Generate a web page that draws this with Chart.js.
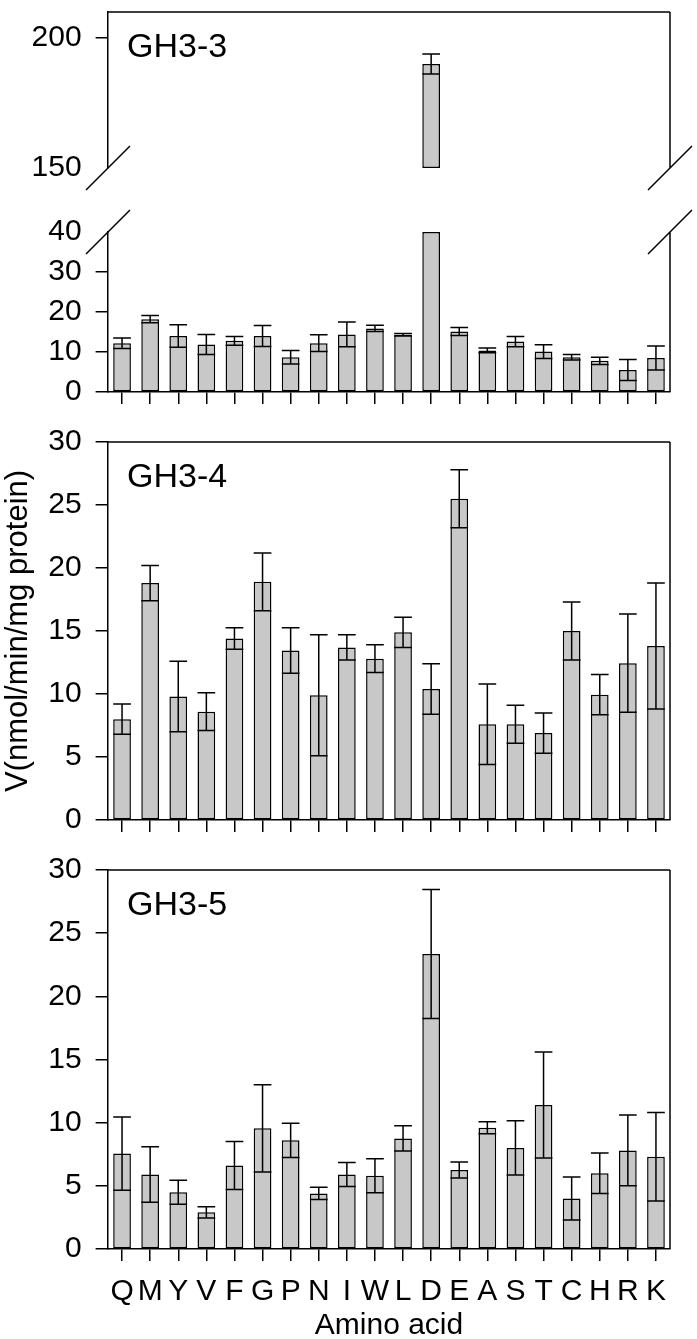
<!DOCTYPE html>
<html>
<head>
<meta charset="utf-8">
<script src="https://cdn.jsdelivr.net/npm/chart.js@4.4.1/dist/chart.umd.min.js"></script>
<style>
  html, body { margin: 0; padding: 0; background: #fff; }
  body { width: 697px; height: 1339px; position: relative; overflow: hidden; }
  canvas { position: absolute; left: 0; }
</style>
</head>
<body>
<canvas id="gh33Upper" width="697" height="220" style="top:-20px"></canvas>
<canvas id="gh33Lower" width="697" height="232" style="top:200px"></canvas>
<canvas id="gh34Chart" width="697" height="450" style="top:410px"></canvas>
<canvas id="gh35Chart" width="697" height="509" style="top:838px"></canvas>
<script>
const aminoAcids = ['Q', 'M', 'Y', 'V', 'F', 'G', 'P', 'N', 'I', 'W', 'L', 'D', 'E', 'A', 'S', 'T', 'C', 'H', 'R', 'K'];

const gh33 = [12.2, 18.2, 14.0, 11.9, 12.8, 14.0, 8.7, 12.2, 14.4, 15.9, 14.3, 190.0, 15.1, 10.4, 12.6, 10.1, 8.7, 7.8, 5.5, 8.5];
const gh33Err = [1.3, 0.9, 2.8, 2.5, 1.1, 2.6, 1.7, 2.1, 3.1, 0.8, 0.3, 3.8, 1.0, 0.6, 1.3, 1.7, 0.7, 0.9, 2.6, 3.0];

const gh34 = [8.0, 18.8, 9.8, 8.6, 14.4, 18.9, 13.45, 9.9, 13.7, 12.8, 14.9, 10.4, 25.5, 7.6, 7.6, 6.9, 15.0, 9.95, 12.45, 13.8];
const gh34Err = [1.2, 1.4, 2.8, 1.5, 0.85, 2.3, 1.8, 4.8, 1.0, 1.1, 1.2, 2.0, 2.3, 3.2, 1.5, 1.6, 2.3, 1.6, 3.9, 5.0];

const gh35 = [7.55, 5.9, 4.5, 2.9, 6.6, 9.55, 8.6, 4.4, 5.9, 5.8, 8.75, 23.35, 6.25, 9.6, 8.0, 11.4, 4.0, 6.0, 7.8, 7.3];
const gh35Err = [2.9, 2.2, 0.95, 0.45, 1.9, 3.45, 1.35, 0.48, 0.95, 1.35, 1.0, 5.1, 0.63, 0.47, 2.15, 4.2, 1.7, 1.6, 2.8, 3.5];

// broken axis for GH3-3
const breakLow = 40;
const breakHigh = 150;
const upperTicks = [150, 200];
const lowerTicks = [0, 10, 20, 30, 40];
const panelTicks = [0, 5, 10, 15, 20, 25, 30];

const family = "'Liberation Sans', Arial, sans-serif";
const barFill = '#c8c8c8';
const ink = '#000';
const lw = 1.5;

const errorBars = {
  id: 'errorBars',
  afterDatasetsDraw(chart) {
    const ctx = chart.ctx;
    const y = chart.scales.y;
    chart.data.datasets.forEach((ds, i) => {
      if (!ds.errors) return;
      const meta = chart.getDatasetMeta(i);
      meta.data.forEach((bar, j) => {
        const v = ds.means[j];
        const e = ds.errors[j];
        if (v == null || v < y.min || v > y.max) return;
        const yHi = y.getPixelForValue(v + e);
        const yLo = y.getPixelForValue(v - e);
        const half = bar.width / 2;
        ctx.save();
        ctx.strokeStyle = ink;
        ctx.lineWidth = lw;
        ctx.beginPath();
        ctx.moveTo(bar.x, yLo);
        ctx.lineTo(bar.x, yHi);
        ctx.moveTo(bar.x - half, yHi);
        ctx.lineTo(bar.x + half, yHi);
        ctx.moveTo(bar.x - half, yLo);
        ctx.lineTo(bar.x + half, yLo);
        ctx.stroke();
        ctx.restore();
      });
    });
  }
};

const panelDecor = {
  id: 'panelDecor',
  afterDraw(chart, args, opts) {
    const ctx = chart.ctx;
    const {left, right, top, bottom} = chart.chartArea;
    ctx.save();
    ctx.strokeStyle = ink;
    ctx.lineWidth = lw;
    ctx.beginPath();
    if (opts.frameTop) {
      ctx.moveTo(left, top);
      ctx.lineTo(right, top);
    }
    ctx.moveTo(right, top);
    ctx.lineTo(right, bottom);
    // double slash marks on the broken axis
    if (opts.breakAt) {
      const yb = opts.breakAt === 'bottom' ? bottom : top;
      [left, right].forEach(x => {
        ctx.moveTo(x - 22, yb + 22);
        ctx.lineTo(x + 22, yb - 22);
      });
    }
    ctx.stroke();
    if (opts.title) {
      ctx.fillStyle = ink;
      ctx.font = '34px ' + family;
      ctx.textAlign = 'left';
      ctx.textBaseline = 'alphabetic';
      ctx.fillText(opts.title, left + 19, top + 45);
    }
    if (opts.yLabel) {
      ctx.translate(18, opts.yLabelY);
      ctx.rotate(-Math.PI / 2);
      ctx.fillStyle = ink;
      ctx.font = '31px ' + family;
      ctx.textAlign = 'center';
      ctx.textBaseline = 'middle';
      ctx.fillText(opts.yLabel, 0, 0);
    }
    ctx.restore();
  }
};

const makeChart = (id, cfg) => {
  const yTicks = cfg.ticks;
  const hidden = cfg.hiddenTicks || [];
  return new Chart(document.getElementById(id), {
    type: 'bar',
    data: {
      labels: aminoAcids,
      datasets: [{
        data: cfg.bars,
        means: cfg.means,
        errors: cfg.errors,
        backgroundColor: barFill,
        borderColor: ink,
        borderWidth: lw,
        borderSkipped: false,
        categoryPercentage: 1,
        barPercentage: 0.63
      }]
    },
    options: {
      responsive: false,
      animation: false,
      layout: { padding: { left: 0, right: 27, top: cfg.padTop, bottom: cfg.padBottom } },
      plugins: {
        legend: { display: false },
        tooltip: { enabled: false },
        panelDecor: cfg.decor
      },
      scales: {
        x: {
          display: cfg.xDisplay,
          grid: { display: true, drawOnChartArea: false, offset: false, tickLength: 12, color: ink, lineWidth: lw },
          border: { display: true, color: ink, width: lw },
          ticks: {
            display: !!cfg.xLabels,
            color: ink,
            font: { family: family, size: 30 },
            padding: 12.7,
            maxRotation: 0,
            autoSkip: false
          },
          title: {
            display: !!cfg.xTitle,
            text: cfg.xTitle || '',
            color: ink,
            font: { family: family, size: 30 },
            padding: { top: 0, bottom: 0 }
          },
          afterFit: s => { s.height = cfg.xHeight; }
        },
        y: {
          min: cfg.min,
          max: cfg.max,
          grid: {
            display: true,
            drawOnChartArea: false,
            tickLength: 12.4,
            lineWidth: lw,
            color: c => hidden.includes(c.tick && c.tick.value) ? 'rgba(0,0,0,0)' : ink
          },
          border: { display: true, color: ink, width: lw },
          ticks: {
            color: ink,
            font: { family: family, size: 30 },
            padding: 14
          },
          afterBuildTicks: s => { s.ticks = yTicks.map(v => ({ value: v })); },
          afterFit: s => { s.width = 108; }
        }
      }
    },
    plugins: [errorBars, panelDecor]
  });
};

// GH3-3 upper part (150-210)
makeChart('gh33Upper', {
  bars: gh33.map(v => (v > breakHigh ? [breakHigh, v] : null)),
  means: gh33,
  errors: gh33Err,
  ticks: upperTicks,
  hiddenTicks: [150],
  min: 150,
  max: 210,
  padTop: 24.5,
  padBottom: 23.3,
  xDisplay: false,
  xHeight: 0,
  decor: { frameTop: true, breakAt: 'bottom', title: 'GH3-3' }
});

// GH3-3 lower part (0-40)
makeChart('gh33Lower', {
  bars: gh33.map(v => Math.min(v, breakLow)),
  means: gh33,
  errors: gh33Err,
  ticks: lowerTicks,
  hiddenTicks: [40],
  min: 0,
  max: 40,
  padTop: 20.7,
  padBottom: 20,
  xDisplay: true,
  xHeight: 20,
  decor: { frameTop: false, breakAt: 'top' }
});

makeChart('gh34Chart', {
  bars: gh34,
  means: gh34,
  errors: gh34Err,
  ticks: panelTicks,
  min: 0,
  max: 30,
  padTop: 21.7,
  padBottom: 20,
  xDisplay: true,
  xHeight: 20,
  decor: { frameTop: true, title: 'GH3-4', yLabel: 'V(nmol/min/mg protein)', yLabelY: 631 - 410 }
});

makeChart('gh35Chart', {
  bars: gh35,
  means: gh35,
  errors: gh35Err,
  ticks: panelTicks,
  min: 0,
  max: 30,
  padTop: 21.3,
  padBottom: 3,
  xDisplay: true,
  xHeight: 95,
  xLabels: true,
  xTitle: 'Amino acid',
  decor: { frameTop: true, title: 'GH3-5' }
});
</script>
</body>
</html>
